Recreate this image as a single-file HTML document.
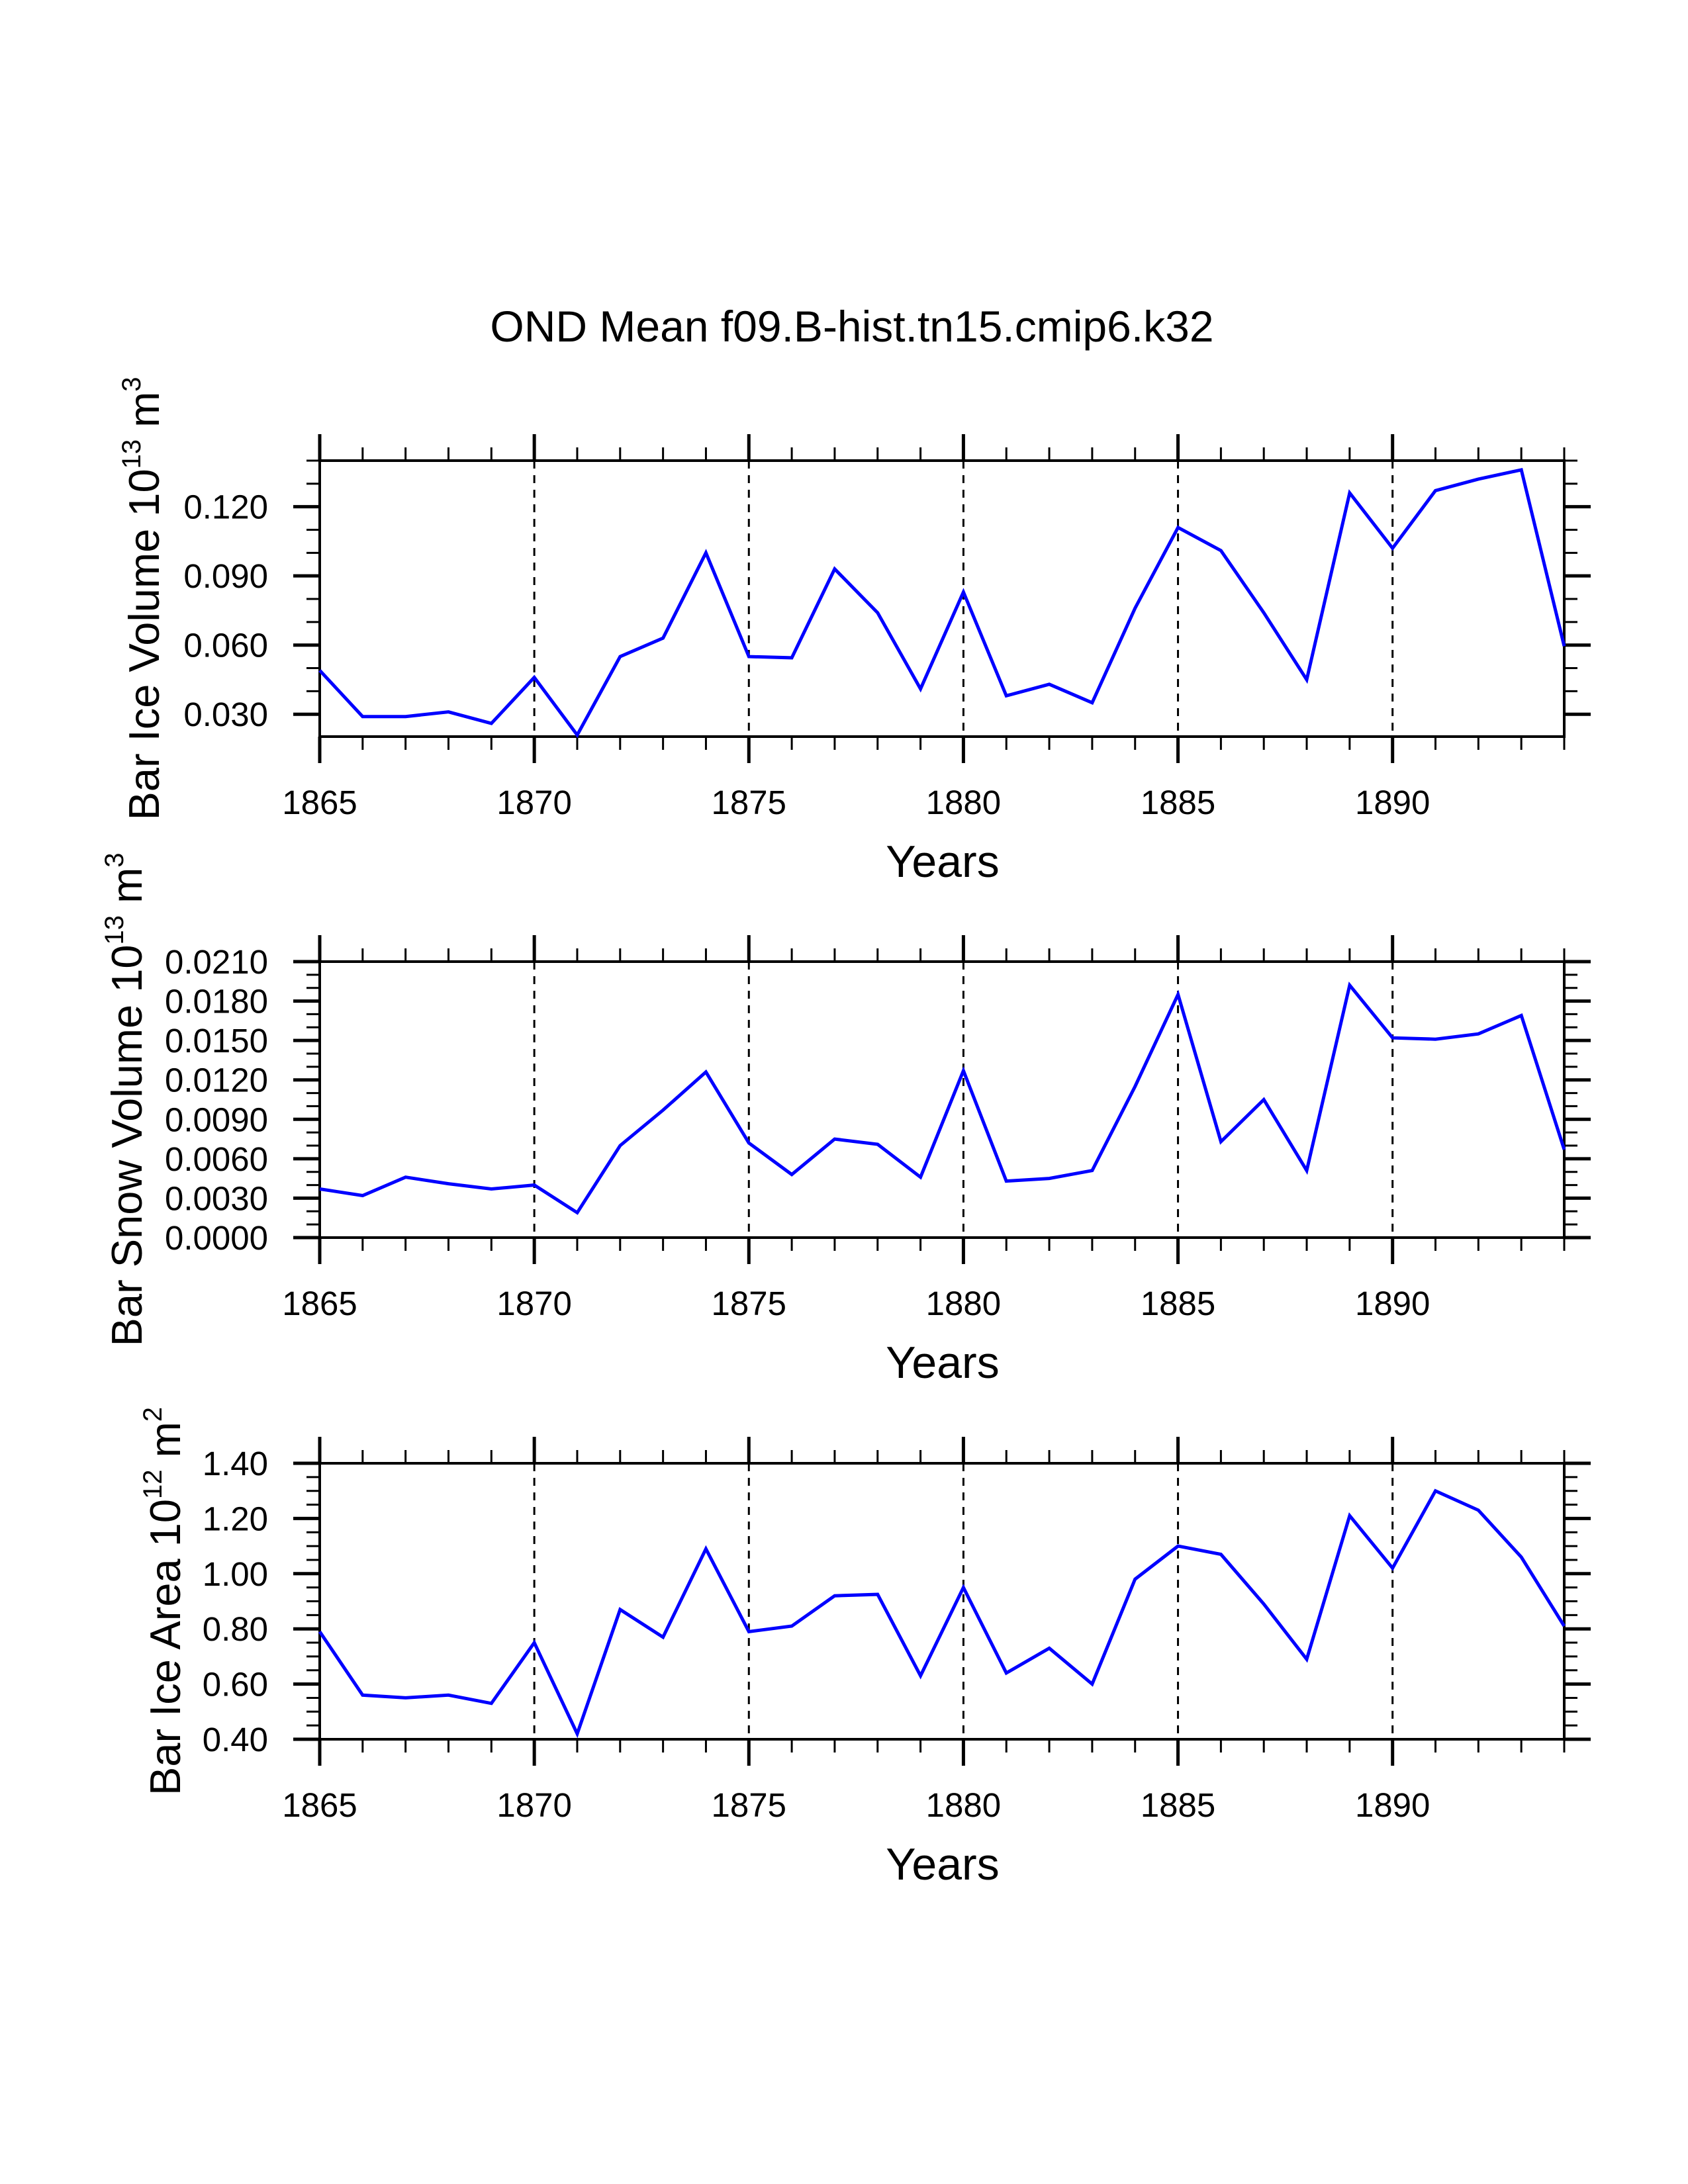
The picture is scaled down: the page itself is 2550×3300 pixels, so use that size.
<!DOCTYPE html>
<html><head><meta charset="utf-8"><style>
html,body{margin:0;padding:0;background:#fff;}
svg{display:block;font-family:"Liberation Sans",Arial,sans-serif;}
</style></head><body>
<svg id="chart" width="2550" height="3300" viewBox="0 0 2550 3300" xmlns="http://www.w3.org/2000/svg">
<rect width="2550" height="3300" fill="#fff"/>
<text x="1287" y="516" font-size="66" text-anchor="middle">OND Mean f09.B-hist.tn15.cmip6.k32</text>
</svg>
<script>
const years = [1865,1866,1867,1868,1869,1870,1871,1872,1873,1874,1875,1876,1877,1878,1879,1880,1881,1882,1883,1884,1885,1886,1887,1888,1889,1890,1891,1892,1893,1894];
const iceVolume = [0.049,0.029,0.029,0.031,0.026,0.046,0.021,0.055,0.063,0.100,0.055,0.0545,0.093,0.074,0.041,0.083,0.038,0.043,0.035,0.076,0.111,0.101,0.074,0.045,0.126,0.102,0.127,0.132,0.136,0.0595];
const snowVolume = [0.0037,0.0032,0.0046,0.0041,0.0037,0.0040,0.0019,0.0070,0.0097,0.0126,0.0072,0.0048,0.0075,0.0071,0.0046,0.0127,0.0043,0.0045,0.0051,0.0115,0.0185,0.0073,0.0105,0.0051,0.0192,0.0152,0.0151,0.0155,0.0169,0.0067];
const iceArea = [0.79,0.56,0.55,0.56,0.53,0.75,0.42,0.87,0.77,1.09,0.79,0.81,0.92,0.925,0.63,0.95,0.64,0.73,0.60,0.98,1.10,1.07,0.89,0.69,1.21,1.02,1.30,1.23,1.06,0.81];
const xTicks = [1865,1870,1875,1880,1885,1890];
const iceVolTicks = ["0.030","0.060","0.090","0.120"];
const snowTicks = ["0.0000","0.0030","0.0060","0.0090","0.0120","0.0150","0.0180","0.0210"];
const areaTicks = ["0.40","0.60","0.80","1.00","1.20","1.40"];

const svg = document.getElementById('chart');
const NS = 'http://www.w3.org/2000/svg';
function mk(tag, attrs){const e=document.createElementNS(NS,tag);for(const k in attrs)e.setAttribute(k,attrs[k]);svg.appendChild(e);return e;}

const L=483, R=2363, H=417;
const x0=years[0], x1=years[years.length-1];
function xs(v){return L+(v-x0)/(x1-x0)*(R-L);}

const panels = [
 {top:696, ymin:0.0203, ymax:0.140, minor:0.010, ticks:iceVolTicks, data:iceVolume, label:"Bar Ice Volume 10", sup:"13", unit:" m", usup:"3", lx:218, name:"ice-volume"},
 {top:1453, ymin:0, ymax:0.021, minor:0.001, ticks:snowTicks, data:snowVolume, label:"Bar Snow Volume 10", sup:"13", unit:" m", usup:"3", lx:192, name:"snow-volume"},
 {top:2211, ymin:0.40, ymax:1.40, minor:0.05, ticks:areaTicks, data:iceArea, label:"Bar Ice Area 10", sup:"12", unit:" m", usup:"2", lx:250, name:"ice-area"}
];

panels.forEach(p=>{
  const T=p.top, B=p.top+H;
  const ys=v=>B-(v-p.ymin)/(p.ymax-p.ymin)*H;
  xTicks.forEach(t=>{ if(t>x0){
    const g=mk('line',{x1:xs(t),x2:xs(t),y1:T,y2:B,stroke:'#000','stroke-width':3,'stroke-dasharray':'12,10'});
    
    
  }});
  years.forEach(yr=>{
    const major = xTicks.includes(yr);
    const len = major?40:20, w = major?5:3;
    const t1=mk('line',{x1:xs(yr),x2:xs(yr),y1:T-len,y2:T,stroke:'#000','stroke-width':w});
    
    
    const t2=mk('line',{x1:xs(yr),x2:xs(yr),y1:B,y2:B+len,stroke:'#000','stroke-width':w});
    
    
  });
  xTicks.forEach(t=>{
    const tx=mk('text',{x:xs(t),y:B+117,'font-size':51,'text-anchor':'middle'});
    tx.textContent=t;
    
    
  });
  const n=Math.round((p.ymax-p.ymin)/p.minor)+2;
  const start=Math.ceil(p.ymin/p.minor-1e-6)*p.minor;
  for(let i=0;i<n;i++){
    const v=start+i*p.minor; if(v>p.ymax+1e-9) break;
    const y=ys(v);
    const a=mk('line',{x1:L-20,x2:L,y1:y,y2:y,stroke:'#000','stroke-width':3});
    
    
    const b=mk('line',{x1:R,x2:R+20,y1:y,y2:y,stroke:'#000','stroke-width':3});
    
    
  }
  p.ticks.forEach(s=>{
    const y=ys(parseFloat(s));
    const a=mk('line',{x1:L-40,x2:L,y1:y,y2:y,stroke:'#000','stroke-width':5});
    
    
    const b=mk('line',{x1:R,x2:R+40,y1:y,y2:y,stroke:'#000','stroke-width':5});
    
    
    const tx=mk('text',{x:405,y:y+18,'font-size':51,'text-anchor':'end'});
    tx.textContent=s;
    
    
  });
  const fr=mk('rect',{x:L,y:T,width:R-L,height:H,fill:'none',stroke:'#000','stroke-width':4});
  
  
  const pts=p.data.map((v,i)=>xs(years[i]).toFixed(1)+','+ys(v).toFixed(1)).join(' ');
  const ln=mk('polyline',{points:pts,fill:'none',stroke:'#0000ff','stroke-width':5,'stroke-linejoin':'miter'});
  
  
  const xt=mk('text',{x:1424,y:B+212,'font-size':68,'text-anchor':'middle'});
  xt.textContent='Years';
  
  
  const cy=(T+B)/2;
  const yt=mk('text',{x:0,y:0,'font-size':65,'text-anchor':'middle',transform:`translate(${p.lx+22},${cy}) rotate(-90)`});
  
  
  const t1=document.createElementNS(NS,'tspan'); t1.textContent=p.label; yt.appendChild(t1);
  const t2=document.createElementNS(NS,'tspan'); t2.setAttribute('font-size','40'); t2.setAttribute('dy','-28'); t2.textContent=p.sup; yt.appendChild(t2);
  const t3=document.createElementNS(NS,'tspan'); t3.setAttribute('dy','28'); t3.textContent=p.unit; yt.appendChild(t3);
  const t4=document.createElementNS(NS,'tspan'); t4.setAttribute('font-size','40'); t4.setAttribute('dy','-28'); t4.textContent=p.usup; yt.appendChild(t4);
});
</script>
</body></html>
